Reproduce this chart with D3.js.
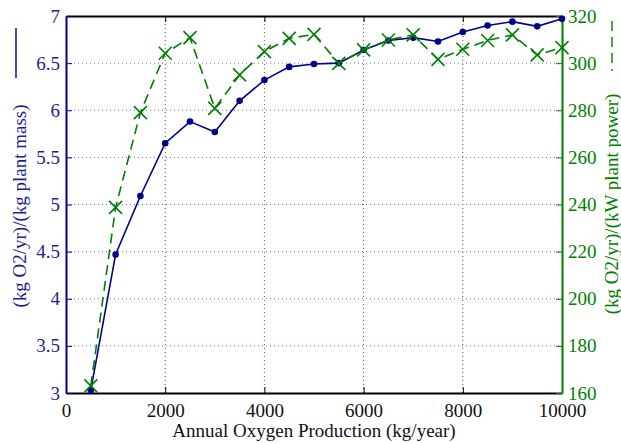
<!DOCTYPE html>
<html>
<head>
<meta charset="utf-8">
<script src="https://cdn.jsdelivr.net/npm/d3@7"></script>
<style>
  body { margin: 0; background: #fff; }
</style>
</head>
<body>
<div class="chart-container"></div>
<script>
var W = 621, H = 443;
var margin = {top: 16, right: 59, bottom: 50, left: 66};
var width = W - margin.left - margin.right;
var height = H - margin.top - margin.bottom;

var production = [500, 1000, 1500, 2000, 2500, 3000, 3500, 4000, 4500, 5000,
  5500, 6000, 6500, 7000, 7500, 8000, 8500, 9000, 9500, 10000];
var perMass = [3.03, 4.47, 5.09, 5.65, 5.88, 5.77, 6.10, 6.32, 6.46, 6.49,
  6.50, 6.64, 6.74, 6.77, 6.73, 6.83, 6.90, 6.94, 6.89, 6.97];
var perPower = [163, 238.8, 279, 304.2, 310.8, 280.8, 295, 304.9, 310.5, 312.2,
  299.9, 305.6, 309.8, 312, 301.6, 305.9, 309.6, 312, 303.5, 306.6];

var xTicks = [0, 2000, 4000, 6000, 8000, 10000];
var leftTicks = [3, 3.5, 4, 4.5, 5, 5.5, 6, 6.5, 7];
var rightTicks = [160, 180, 200, 220, 240, 260, 280, 300, 320];

var blue = '#00008b', blueText = '#1f1f8f', green = '#007f00';
var fontName = 'Liberation Serif';

var x = d3.scaleLinear().domain([0, 10000]).range([margin.left, margin.left + width]);
var yL = d3.scaleLinear().domain([3, 7]).range([margin.top + height, margin.top]);
var yR = d3.scaleLinear().domain([160, 320]).range([margin.top + height, margin.top]);

var svg = d3.select('.chart-container').append('svg')
  .attr('width', W)
  .attr('height', H);

// grid
svg.append('g').selectAll('line')
  .data(xTicks.slice(1, -1))
  .enter().append('line')
    .attr('x1', d => x(d)).attr('x2', d => x(d))
    .attr('y1', margin.top).attr('y2', margin.top + height)
    .attr('stroke', '#555').attr('stroke-width', 1)
    .attr('stroke-dasharray', '1,3');
svg.append('g').selectAll('line')
  .data(leftTicks.slice(1, -1))
  .enter().append('line')
    .attr('x1', margin.left).attr('x2', margin.left + width)
    .attr('y1', d => yL(d)).attr('y2', d => yL(d))
    .attr('stroke', '#6b6bc8').attr('stroke-width', 1)
    .attr('stroke-dasharray', '1,3');

// axes
var fs = 19;
var plain = d => String(d);
var gX = svg.append('g')
  .attr('transform', `translate(0,${margin.top + height})`)
  .call(d3.axisBottom(x).tickValues(xTicks).tickFormat(plain)
    .tickSizeInner(-6).tickSizeOuter(0).tickPadding(11));
var gXTop = svg.append('g')
  .attr('transform', `translate(0,${margin.top})`)
  .call(d3.axisTop(x).tickValues(xTicks).tickSizeInner(-6).tickSizeOuter(0).tickFormat(''));
[gX, gXTop].forEach(g => {
  g.select('.domain').attr('stroke', '#000').attr('stroke-width', 2);
  g.selectAll('.tick line').attr('stroke', '#000');
});
gX.selectAll('text').attr('fill', '#111');

var gL = svg.append('g')
  .attr('transform', `translate(${margin.left},0)`)
  .call(d3.axisLeft(yL).tickValues(leftTicks).tickFormat(plain)
    .tickSizeInner(-6).tickSizeOuter(0).tickPadding(6));
gL.select('.domain').attr('stroke', blue).attr('stroke-width', 2);
gL.selectAll('.tick line').attr('stroke', blue);
gL.selectAll('text').attr('fill', blueText);

var gR = svg.append('g')
  .attr('transform', `translate(${margin.left + width},0)`)
  .call(d3.axisRight(yR).tickValues(rightTicks).tickFormat(plain)
    .tickSizeInner(-6).tickSizeOuter(0).tickPadding(6));
gR.select('.domain').attr('stroke', green).attr('stroke-width', 2);
gR.selectAll('.tick line').attr('stroke', green);
gR.selectAll('text').attr('fill', green);

[gX, gXTop, gL, gR].forEach(g => g.attr('font-family', null).attr('font-size', null));

// mass series
var lineL = d3.line().x((d, i) => x(production[i])).y(d => yL(d));
svg.append('path')
  .datum(perMass)
  .attr('d', lineL)
  .attr('fill', 'none').attr('stroke', blue).attr('stroke-width', 1.6);
svg.append('g').selectAll('circle')
  .data(perMass)
  .enter().append('circle')
    .attr('cx', (d, i) => x(production[i]))
    .attr('cy', d => yL(d))
    .attr('r', 3.3)
    .attr('fill', blue);

// power series
var lineR = d3.line().x((d, i) => x(production[i])).y(d => yR(d));
svg.append('path')
  .datum(perPower)
  .attr('d', lineR)
  .attr('fill', 'none').attr('stroke', green).attr('stroke-width', 1.6)
  .attr('stroke-dasharray', '10,6');
var s = 6.5;
svg.append('g').selectAll('path')
  .data(perPower)
  .enter().append('path')
    .attr('transform', (d, i) => `translate(${x(production[i])},${yR(d)})`)
    .attr('d', `M${-s},${-s}L${s},${s}M${-s},${s}L${s},${-s}`)
    .attr('stroke', green).attr('stroke-width', 1.6);

// labels
svg.append('text')
  .attr('x', margin.left + width / 2)
  .attr('y', 437)
  .attr('text-anchor', 'middle')
  .attr('fill', '#111')
  .text('Annual Oxygen Production (kg/year)');

svg.append('text')
  .attr('transform', 'translate(26,206) rotate(-90)')
  .attr('text-anchor', 'middle')
  .attr('fill', blueText)
  .text('(kg O2/yr)/(kg plant mass)');
svg.append('line')
  .attr('x1', 16).attr('x2', 16).attr('y1', 28).attr('y2', 78)
  .attr('stroke', blue).attr('stroke-width', 1.4);

svg.append('text')
  .attr('transform', 'translate(618,204) rotate(-90)')
  .attr('text-anchor', 'middle')
  .attr('fill', green)
  .text('(kg O2/yr)/(kW plant power)');
svg.append('line')
  .attr('x1', 612).attr('x2', 612).attr('y1', 21).attr('y2', 71)
  .attr('stroke', green).attr('stroke-width', 1.4)
  .attr('stroke-dasharray', '10,6');

svg.selectAll('text')
  .attr('font-size', fs)
  .style('font-family', `"${fontName}"`);
</script>
</body>
</html>
